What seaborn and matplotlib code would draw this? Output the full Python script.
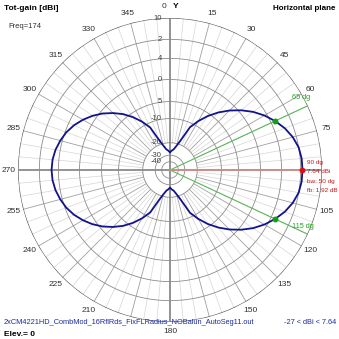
import numpy as np
import matplotlib
matplotlib.use("Agg")
import matplotlib.pyplot as plt
import matplotlib.transforms as mtrans
import seaborn as sns

# Horizontal-plane total gain pattern (dBi), azimuth 0..355 deg in 5 deg steps
azimuth_deg = list(range(0, 360, 5))
gain_dbi = [
    # 0 .. 90
    -27.0, -25.3, -24.0, -21.0, -16.8, -10.1, -7.0, -4.35, -2.1, -0.15,
    1.55, 3.05, 4.3, 5.35, 6.25, 6.93, 7.40, 7.60, 7.64,
    # 95 .. 180
    7.60, 7.40, 6.93, 6.25, 5.35, 4.3, 3.05, 1.55, -0.15, -2.1,
    -4.35, -7.0, -10.1, -16.8, -21.0, -24.0, -25.3, -27.0,
    # 185 .. 270
    -25.3, -24.0, -21.0, -16.8, -10.2, -7.2, -4.7, -2.6, -0.9, 0.6,
    1.85, 2.9, 3.8, 4.5, 5.0, 5.4, 5.64, 5.72,
    # 275 .. 355
    5.64, 5.4, 5.0, 4.5, 3.8, 2.9, 1.85, 0.6, -0.9, -2.6,
    -4.7, -7.2, -10.2, -16.8, -21.0, -24.0, -25.3,
]

peak_azimuth = 90
peak_gain = 7.64
min_gain = -27
beamwidth = 50
front_back = 1.92
half_power_azimuths = [65, 115]

ring_levels_db = [10, 7.4, 4.7, 1.1, -3.7, -8.6, -19.5, -30, -40]
ring_labels = ["10", "2", "4", "0", "5", "-10", "-20", "-30", "-40"]
angle_ticks = [0, 15, 30, 45, 60, 75, 105, 120, 135, 150, 180,
               210, 225, 240, 255, 270, 285, 300, 315, 330, 345]

file_name = "2xCM4221HD_CombMod_16RflRds_FixFLRadius_NOBalun_AutoSeg11.out"


def to_radius(db):
    """ARRL-style logarithmic radial scale, 10 dBi at the outer ring."""
    return 0.89 ** ((10 - np.asarray(db, dtype=float)) / 2)


sns.set_style("white")
plt.rcParams["font.family"] = ["Liberation Sans", "DejaVu Sans"]

W = H = 339
fig = plt.figure(figsize=(W / 100, H / 100), dpi=100)
fig.patch.set_facecolor("white")

cx, cy, R = 170, 170, 152
ax = fig.add_axes([(cx - R) / W, (H - cy - R) / H, 2 * R / W, 2 * R / H],
                  projection="polar")
ax.set_theta_zero_location("N")
ax.set_theta_direction(-1)
ax.set_ylim(0, 1)
ax.grid(False)
ax.set_xticks([])
ax.set_yticks([])
ax.spines["polar"].set_visible(False)
ax.set_facecolor("none")

full = np.linspace(0, 2 * np.pi, 361)
r_inner = float(to_radius(-19.5))

# spokes: light every 5 deg, darker every 15 deg
for a in range(0, 360, 5):
    t = np.deg2rad(a)
    if a % 90 == 0:
        continue
    if a % 15 == 0:
        ax.plot([t, t], [r_inner, 1], color="#a0a0a0", lw=0.6, zorder=1)
    else:
        ax.plot([t, t], [r_inner, 1], color="#d6d6d6", lw=0.5, zorder=0.9)

# main axes through the centre
for a in (0, 90, 180, 270):
    t = np.deg2rad(a)
    ax.plot([t, t], [0, 1], color="#8a8a8a", lw=1.3, zorder=1.2)

# gain rings
for lvl in ring_levels_db:
    rr = float(to_radius(lvl))
    ax.plot(full, np.full_like(full, rr),
            color="#5a5a5a" if lvl == 10 else "#8c8c8c",
            lw=0.9 if lvl == 10 else 0.6, zorder=1.1)

# ring labels, just left of the vertical axis
lab_tr = mtrans.offset_copy(ax.transData, fig=fig, x=-8, y=0, units="dots")
for lvl, txt in zip(ring_levels_db, ring_labels):
    ax.text(0, float(to_radius(lvl)), txt, transform=lab_tr, ha="right",
            va="center", fontsize=5.5, color="#404040", zorder=3)

# azimuth labels
for a in angle_ticks:
    t = np.deg2rad(a)
    if a == 0:
        tr = mtrans.offset_copy(ax.transData, fig=fig, x=-6, y=0, units="dots")
        ax.text(t, 1.075, "0", transform=tr, ha="center", va="center",
                fontsize=6, color="#303030", clip_on=False)
        tr2 = mtrans.offset_copy(ax.transData, fig=fig, x=6, y=0, units="dots")
        ax.text(t, 1.075, "Y", transform=tr2, ha="center", va="center",
                fontsize=6, color="#000000", fontweight="bold", clip_on=False)
        continue
    ax.text(t, 1.065, str(a), ha="center", va="center", fontsize=6,
            color="#303030", clip_on=False)

# half-power and peak markers
az_list = list(azimuth_deg)
for a in half_power_azimuths:
    t = np.deg2rad(a)
    ax.plot([t, t], [0, 1], color="#5cb85c", lw=0.8, zorder=2)
    g = gain_dbi[az_list.index(a)]
    ax.plot([t], [float(to_radius(g))], "o", color="#10a010", ms=3.2, zorder=5)
ax.text(np.deg2rad(61), 0.985, f"{half_power_azimuths[0]} dg", ha="center",
        va="center", fontsize=5.3, color="#20a020", zorder=4)
ax.text(np.deg2rad(113), 0.95, f"{half_power_azimuths[1]} dg", ha="center",
        va="center", fontsize=5.3, color="#20a020", zorder=4)

tp = np.deg2rad(peak_azimuth)
ax.plot([tp, tp], [0, float(to_radius(peak_gain))], color="#d88c8c", lw=1.2,
        zorder=2)
ax.plot([tp], [float(to_radius(peak_gain))], "o", color="#e01010", ms=3.2,
        zorder=5)

# gain pattern
theta = np.deg2rad(np.r_[azimuth_deg, azimuth_deg[0]])
radius = to_radius(np.r_[gain_dbi, gain_dbi[0]])
sns.lineplot(x=theta, y=radius, sort=False, estimator=None, ax=ax,
             color="#12128c", lw=1.3, zorder=4)
ax.set_xlabel("")
ax.set_ylabel("")
ax.set_ylim(0, 1)


def px(x, y):
    return x / W, 1 - y / H


red = "#c81818"
for i, s in enumerate([f"{peak_azimuth} dg", f"{peak_gain} dBi",
                       f"bw: {beamwidth} dg", f"fb: {front_back} dB"]):
    fig.text(*px(307, 162 + i * 9.5), s, fontsize=4.6, color=red,
             ha="left", va="center")

fig.text(*px(4, 8), "Tot-gain [dBi]", fontsize=6, fontweight="bold",
         ha="left", va="center", color="black")
fig.text(*px(8, 27), "Freq=174", fontsize=5.5, ha="left", va="center",
         color="#303030")
fig.text(*px(335, 8), "Horizontal plane", fontsize=5.8, fontweight="bold",
         ha="right", va="center", color="black")
fig.text(*px(4, 323), file_name, fontsize=5.3, ha="left", va="center",
         color="#1a2a9a")
fig.text(*px(336, 323), f"{min_gain} < dBi < {peak_gain}", fontsize=5.3,
         ha="right", va="center", color="#1a2a9a")
fig.text(*px(4, 334), "Elev.= 0", fontsize=6, fontweight="bold",
         ha="left", va="center", color="black")

fig.savefig("out.png", dpi=100, facecolor="white")
